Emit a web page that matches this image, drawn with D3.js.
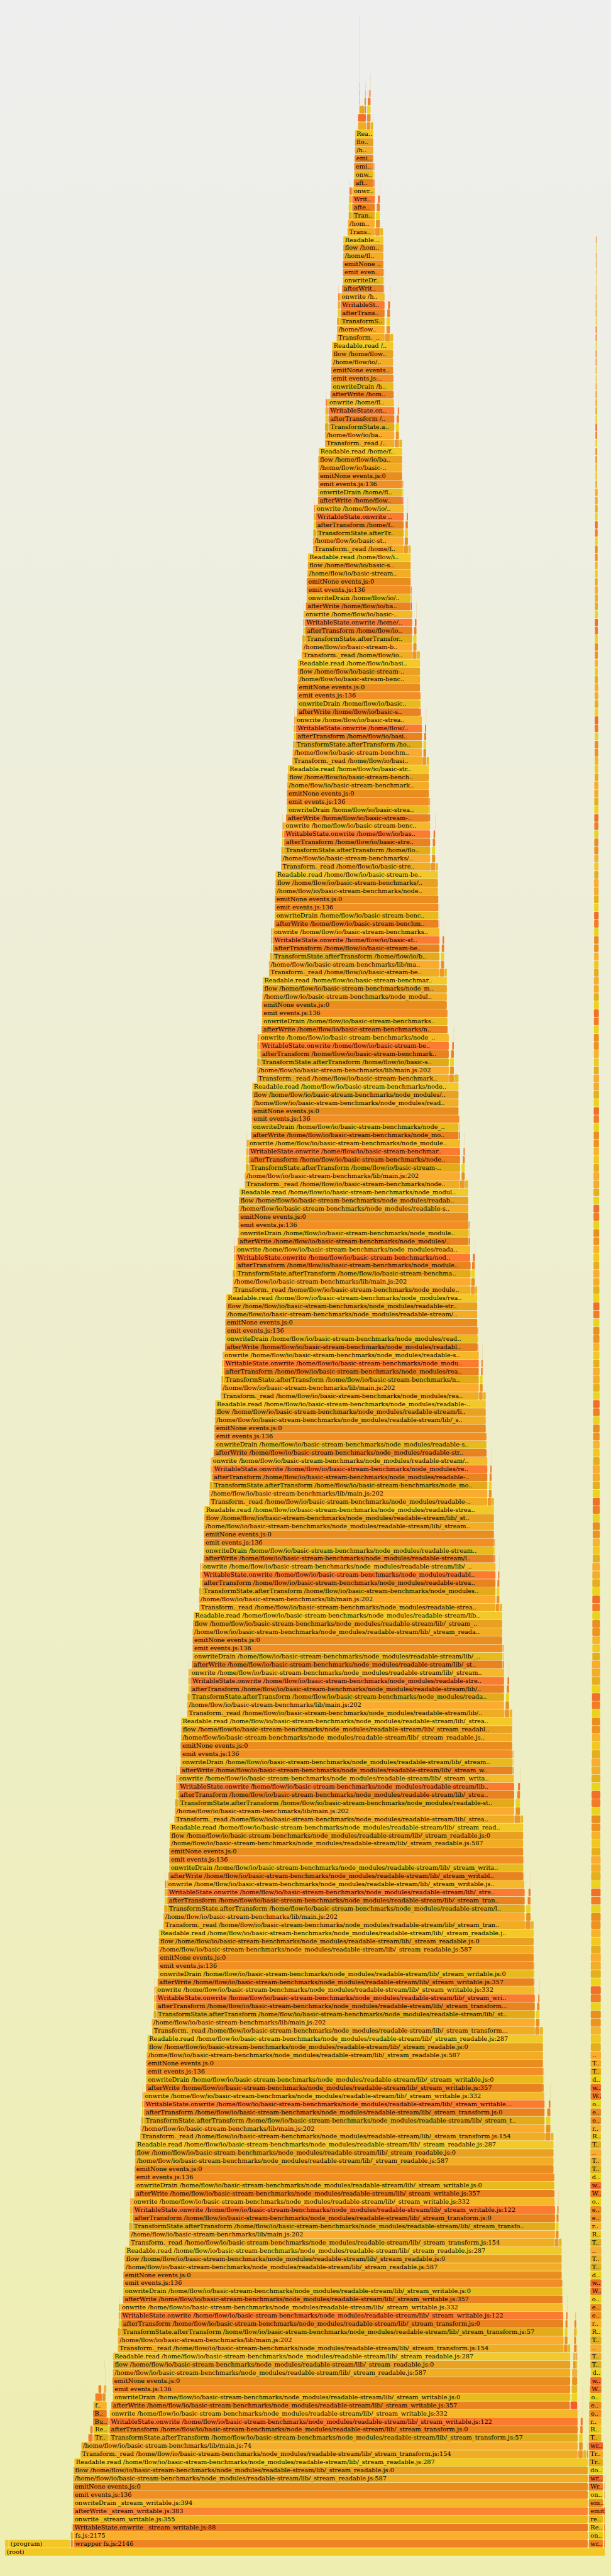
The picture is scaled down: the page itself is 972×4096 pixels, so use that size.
<!DOCTYPE html>
<html><head><meta charset="utf-8">
<script src="https://cdn.jsdelivr.net/npm/d3@7"></script>
<style>html,body{margin:0;padding:0;background:#eee}svg{display:block}text{font-family:"DejaVu Serif",serif;fill:#000}</style>
</head><body><svg id="chart"></svg>
<script>
const LIB = "/home/flow/io/basic-stream-benchmarks/node_modules/readable-stream/lib/";
const HOME = "/home/flow/io/basic-stream-benchmarks/lib/";

// frame names from the bottom of the stack upward
const baseNames = ["(root)","wrapper fs.js:2146","fs.js:2175","WritableState.onwrite _stream_writable.js:88",
  "onwrite _stream_writable.js:355","afterWrite _stream_writable.js:383","onwriteDrain _stream_writable.js:394",
  "emit events.js:136","emitNone events.js:0"," "+LIB+"_stream_readable.js:587","flow "+LIB+"_stream_readable.js:0",
  "Readable.read "+LIB+"_stream_readable.js:287","Transform._read "+LIB+"_stream_transform.js:154"," "+HOME+"main.js:74"];
const cycleNames = ["TransformState.afterTransform "+LIB+"_stream_transform.js:57","afterTransform "+LIB+"_stream_transform.js:0",
  "WritableState.onwrite "+LIB+"_stream_writable.js:122","onwrite "+LIB+"_stream_writable.js:332","afterWrite "+LIB+"_stream_writable.js:357",
  "onwriteDrain "+LIB+"_stream_writable.js:0","emit events.js:136","emitNone events.js:0"," "+LIB+"_stream_readable.js:587",
  "flow "+LIB+"_stream_readable.js:0","Readable.read "+LIB+"_stream_readable.js:287","Transform._read "+LIB+"_stream_transform.js:154"," "+HOME+"main.js:202"];
const cycleColors = ["#e3ab1a","#e9831f","#fb7c30","#f5b829","#e98320","#e8ba1e","#f18f25","#e88d1e","#f2ad25","#e8a120","#f3c929","#f0ad24","#fbac2e"];
const baseColors = ["#f3c726","#ee8423","#f9ae2c","#e97c22","#edb81f","#fc8533","#f4b828","#f18f25","#e88d1e","#f2ad25","#e8a120","#f3c929","#f0ad24","#f7ad2c"];

// main stack, sample offsets per row
const mainStart = [13,189,189,187,188,188,188,188,188,188,189,191,207,209,281,281,281,282,286,290,290,289,290,291,290,
 303,303,311,312,310,309,316,317,317,317,319,320,321,
 332,332,340,341,341,339,345,346,346,346,347,347,348,
 360,361,370,370,370,368,375,376,376,376,377,379,379,
 391,390,402,401,401,400,405,407,407,407,407,408,408,
 420,420,430,430,430,428,433,435,435,435,436,436,436,
 448,449,459,458,458,456,462,464,464,464,465,466,465,
 481,481,489,489,490,488,493,495,495,495,495,496,497,
 512,511,519,519,519,518,523,524,524,524,524,525,525,
 538,538,546,545,546,543,549,551,551,551,552,553,553,
 567,568,575,575,575,573,578,579,579,579,580,581,581,
 597,598,606,606,606,605,611,613,613,613,613,614,615,
 629,629,640,639,639,637,645,646,647,647,648,648,648,
 660,660,669,669,668,666,672,673,673,673,674,675,675,
 691,691,700,701,701,700,705,706,706,706,707,708,708,
 722,722,730,730,730,730,735,737,737,737,738,739,740,
 751,752,758,760,760,758,763,764,764,764,765,765,765,
 775,776,784,784,783,781,786,788,788,788,790,791,791,
 804,804,813,811,811,810,817,817,818,818,818,818,819,
 835,835,845,844,844,842,849,851,851,851,852,853,853,
 865,866,874,875,875,874,879,881,881,881,882,882,882,
 893,894,905,905,905,905,909,910,910,911,912,912,912];
const mainEnd = [1555,1511,1511,1511,1511,1511,1511,1511,1511,1511,1511,1511,1485,1485,1485,1485,1485,1485,1465,1466,1466,1466,1466,1466,1466,
 1449,1449,1448,1448,1448,1447,1445,1445,1445,1444,1444,1444,1444,
 1426,1427,1427,1427,1427,1426,1424,1424,1424,1423,1423,1423,1423,
 1401,1400,1400,1400,1400,1399,1396,1397,1396,1396,1396,1396,1396,
 1375,1375,1375,1375,1375,1374,1372,1372,1372,1372,1372,1372,1372,
 1350,1349,1349,1349,1349,1348,1345,1345,1345,1345,1345,1345,1345,
 1322,1322,1322,1322,1322,1321,1318,1318,1317,1317,1317,1317,1317,
 1297,1296,1296,1296,1296,1296,1292,1292,1292,1291,1291,1291,1291,
 1274,1274,1274,1274,1274,1274,1270,1270,1270,1270,1270,1270,1270,
 1253,1253,1253,1253,1253,1253,1250,1250,1250,1249,1249,1249,1249,
 1231,1231,1231,1231,1231,1231,1228,1228,1228,1227,1227,1227,1227,
 1210,1210,1210,1210,1209,1209,1205,1205,1205,1204,1204,1204,1204,
 1182,1183,1183,1183,1183,1183,1179,1179,1180,1179,1179,1179,1179,
 1154,1154,1154,1154,1154,1154,1150,1150,1150,1149,1149,1149,1149,
 1130,1130,1130,1130,1130,1130,1127,1127,1127,1127,1126,1126,1126,
 1107,1106,1106,1106,1106,1106,1103,1103,1103,1103,1103,1103,1103,
 1085,1085,1085,1085,1085,1085,1080,1080,1080,1080,1080,1080,1080,
 1060,1060,1060,1060,1060,1060,1056,1056,1056,1056,1056,1056,1056,
 1038,1038,1038,1038,1038,1038,1034,1034,1034,1034,1034,1034,1034,
 1014,1014,1014,1014,1014,1013,1011,1011,1011,1011,1011,1011,1011,
 989,989,989,989,989,989,986,986,986,986,986,986,986,
 964,964,964,964,964,964,960,960,960,960,960,960,960];

// side branches of each repeating cycle (first row of the cycle = 25, then every 13 rows)
const transformA = [[1449,1459],[1426,1436],[1401,1415],[1375,1387],[1350,1364],[1322,1337],[1297,1309],[1274,1284],[1253,1264],[1231,1241],[1210,1221],[1182,1195],[1154,1167],[1130,1142],[1107,1119],[1085,1096],[1060,1071],[1038,1049],[1014,1026],[989,1003],[964,977]];
const transformB = [1466,1444,1423,1396,1372,1345,1317,1291,1270,1249,1227,1204,1179,1149,1126,1103,1080,1056,1034,1011,985];
const mainSib = [1451,1428,1403,1377,1352,1325,1299,1276,1256,1233,1211,1186,1156,1133,1110,1088,1062,1040,1017,993,966];
const stateSib = [1451,1428,1403,1377,1352,1325,1300,1276,1256,1233,1211,1186,1156,1133,1110,1088,1062,1040,1017,993,966];
const afterSib = [1453,1430,1406,1380,1356,1329,1302,1278,1258,1236,1213,1189,1159,1135,1112,1090,1064,1042,1019,995,968];
const writableSib = [1455,1432,1410,1383,1358,1331,1304,1280,1260,1237,1215,1191,1162,1137,1114,1092,1066,1045,1022,997,971];
const tipEnd = [1447,1426,1398,1374,1347,1320,1295,1273,1252,1230,1208,1182,1152,1129,1106,1083,1059,1037,1013,988,963];
const leftState = [303,332,363,395,422,450,482,512,539,569,598,632,661,694,723,753,777,805,835,866,896];
const leftAfter = [305,334,365,396,423,452,484,514,541,571,601,632,661,696,725,755,779,806,836,868,896];
const leftWritable = [305,334,365,396,423,452,484,514,541,571,601,633,661,696,725,755,779,806,836,868,897];

const sideNames = ["garbage","(program)","transform","push","mainChild","stateChild","afterChild","writableChild","tipRed","tipYellow","tipPale",
 "stateLeft","afterLeft","writableLeft","sliver","pale","redTop","Buffer.write","Buffer.end","fs.close","Readable.unpipe","cb","callback","onend","Transform._read"];
const sideColors = ["#f3c726","#f3c726","#f0952a","#e8b820","#e8921f","#ead41d","#f0802a","#f2742a","#fb5a30","#e8d41d","#f0a040",
 "#e3ab1a","#e8cf20","#eeb329","#f08040","#eec080","#f56f28","#e88320","#e87e20","#f5b32a","#e5c71e","#f58020","#e8902a","#eeb040","#e2ab1c"];

// frames outside the repeating cycle: row, start, end, name
const extraFrames = [
 [1,13,23,"garbage"],[1,23,181,"(program)"],[1,182,188,"afterChild"],[2,182,188,"stateLeft"],[3,185,187,"afterChild"],
 [12,1486,1498,"transform"],[12,1498.5,1507,"push"],[12,1508,1511,"afterChild"],[13,1488,1498,"mainChild"],[13,1508.5,1510,"pale"],
 [14,227,239,"afterChild"],[14,240,280,"Transform._read"],[14,1488,1498,"stateChild"],
 [15,232,239,"afterChild"],[15,240,280,"Readable.unpipe"],[15,1491,1498,"afterChild"],
 [16,239,280,"Buffer.write"],[16,1492,1498,"writableChild"],[17,239,275,"Buffer.end"],[17,1497,1498.5,"pale"],
 [18,240,275,"fs.close"],[18,1466,1484,"tipRed"],[18,1497,1498.5,"pale"],[19,245,262.5,"cb"],[19,263,272,"callback"],[19,1469,1484,"stateChild"],[19,1497,1498.5,"pale"],
 [20,253,261,"cb"],[20,267,274,"onend"],[20,1469,1484,"push"],[20,1497,1498.5,"pale"],[21,271,272.5,"pale"],[21,1470,1484,"mainChild"],
 [22,271,272.5,"pale"],[22,1470,1484,"onend"],[23,269,270.5,"pale"],[23,1473,1480,"mainChild"],[23,1480,1484,"push"],
 [24,1473,1480,"onend"],[24,1481,1484,"afterChild"],
 [25,1475,1481,"afterChild"],[25,1481,1484,"onend"],[26,1475,1481,"mainChild"],[27,1475,1481,"onend"],[27,1481,1484,"stateChild"],
 [28,1476,1481,"afterChild"],[28,1482,1483.5,"pale"],[29,1478,1481,"pale"],
 [298,920,941,"Transform._read "+LIB+"_stream_transform.js:154"],[298,942,952,"transform"],[298,952,960,"push"],
 [299,920,941,"redTop"],[299,943,953,"mainChild"],[299,959,960.5,"pale"],
 [300,922.5,924.7,"push"],[300,924.7,937,"stateLeft"],[300,937,941,"afterChild"],[300,943,953,"stateChild"],
 [301,922.5,924.7,"writableLeft"],[301,935.6,937.4,"mainChild"],[301,938,941,"mainChild"],[301,945,953,"afterChild"],
 [302,922.5,924.7,"writableLeft"],[302,938,941,"pale"],[302,945,947,"pale"],[302,949,953,"writableChild"],
 [303,923.5,924.9,"sliver"],[303,939.5,941,"pale"],[303,951,952.5,"pale"],[304,923.7,925,"pale"],[304,951,952.3,"pale"],
 [305,923.7,925,"pale"],[306,923.7,925,"pale"],[307,923.7,925,"pale"],[308,923.7,925,"pale"],[309,923.7,925,"pale"],[310,923.7,925,"pale"],[311,923.7,925,"pale"]];
const rootTails = [[1,1552,"afterChild"],[2,1552,"push"],[3,1552,"afterChild"],[4,1552,"push"],[5,1551,"tipRed"],[6,1553,"stateChild"],[7,1553,"writableChild"],[8,1553,"afterChild"],[9,1554,"writableChild"]];

// right-hand column
const colBaseNames = ["wrapper","onread","Readable.push","readableAddChunk","emit","emitAgain","ondata","Writable.write","writeOrBuffer","doWrite","Transform._write","Transform._next","writeAll"];
const colBaseColors = ["#ee8423","#e8c820","#f2c125","#e9b71d","#f09020","#e89020","#ecd41c","#f27d25","#f06f29","#ead41d","#e5ae1b","#f2ae28","#f36429"];
const colCycleNames = ["Transform.write","Readable.add","readable.chunk","emit.first","emit.second","ondata.next","Writable.next","write.buffer","doWrite.next","Transform.run","Transform.tick"," (anonymous)"];
const colCycleColors = ["#e5ae1b","#f0c820","#f5b42a","#f09220","#e88f1f","#e8d41d","#f27d25","#f06f29","#ecd41c","#e5b01c","#f2ae28","#f8ac30"];
const colBands = [[1,13,1513,1550],[14,16,1513,1546],[17,18,1514,1546],[19,19,1515,1546],[20,20,1516,1546],[21,21,1517,1546],[22,22,1518,1546],[23,25,1517,1546],
 [26,37,1517,1546],[38,49,1517,1545.5],[50,61,1517.5,1545],[62,73,1518,1544.5],[74,85,1519,1544],[86,97,1520,1543.5],[98,109,1521,1543],[110,121,1522,1542.5],
 [122,133,1523,1542],[134,145,1524,1541.5],[146,157,1524.5,1541],[158,169,1525,1540.5],[170,181,1525.5,1540],[182,193,1526,1539.5],[194,205,1526.5,1539],
 [206,217,1527,1538.5],[218,229,1528,1538],[230,241,1528.5,1537],[242,253,1529,1536.5],[254,265,1530,1535],[266,277,1530.5,1534],[278,284,1531,1533.5]];

const S = 0.809;
const x = d3.scaleLinear().domain([0,1568]).range([0,1200*S]);
const y = d3.scaleLinear().domain([0,1]).range([5008*S,4992*S]);

const mainNameOf = r => r < baseNames.length ? baseNames[r] : cycleNames[(r-14)%13];
const frames = [];
const add = (row,start,end,name) => frames.push({row,start,end,name});
mainStart.forEach((s,r)=>add(r,s,mainEnd[r],mainNameOf(r)));
transformA.forEach((a,k)=>{
  const r = 25+13*k;
  add(r,a[0],a[1],"transform"); add(r,a[1],transformB[k],"push");
  add(r+1,mainSib[k],a[1],"mainChild"); add(r+2,stateSib[k],a[1],"stateChild");
  add(r+3,afterSib[k],a[1],"afterChild"); add(r+4,writableSib[k],a[1],"writableChild");
  add(r+2,leftState[k],mainStart[r+2],"stateLeft"); add(r+3,leftAfter[k],mainStart[r+3],"afterLeft");
  add(r+4,leftWritable[k],mainStart[r+4],"writableLeft");
  add(r+5,a[1]-1.3,a[1],"pale"); add(r+6,a[1]-1.3,a[1],"pale");
  add(r+5,leftWritable[k]+1,mainStart[r+5],"sliver"); add(r+6,leftWritable[k]+1,leftWritable[k]+2.3,"pale");
  add(r+6,mainEnd[r+6],tipEnd[k],"tipRed"); add(r+7,mainEnd[r+7],tipEnd[k],"tipYellow"); add(r+8,mainEnd[r+8],tipEnd[k],"tipPale");
});
extraFrames.forEach(f=>add(...f));
rootTails.forEach(t=>add(t[0],t[1],1555,t[2]));
colBands.forEach(b=>{ for(let r=b[0];r<=b[1];r++){ add(r,b[2],b[3], r<=13?colBaseNames[r-1]:colCycleNames[(r-14)%12]); } });

const allNames = [...baseNames,...cycleNames,...sideNames,...colBaseNames,...colCycleNames];
const allColors = [...baseColors,...cycleColors,...sideColors,...colBaseColors,...colCycleColors];
const colorMap = new Map(); allNames.forEach((n,i)=>{ if(!colorMap.has(n)) colorMap.set(n,allColors[i]); });
const color = d3.scaleOrdinal([...colorMap.keys()],[...colorMap.values()]);

const label = d => {
  const n = Math.floor((d.end-d.start)/1.3067/7);
  if(n<3) return "";
  return d.name.length<=n ? d.name : d.name.slice(0,n-2)+"..";
};

const svg = d3.select("#chart").attr("width",972).attr("height",4096).attr("viewBox","0 0 972 4096");
const grad = svg.append("defs").append("linearGradient").attr("id","bg").attr("x1",0).attr("y1",0).attr("x2",0).attr("y2",1);
grad.append("stop").attr("offset","0%").attr("stop-color","#eeeeee");
grad.append("stop").attr("offset","100%").attr("stop-color","#eeeeb0");
svg.append("rect").attr("width",972).attr("height",4096).attr("fill","url(#bg)");

const g = svg.append("g").selectAll("g").data(frames).join("g");
g.append("rect")
 .attr("x",d=>x(d.start)).attr("y",d=>y(d.row))
 .attr("width",d=>Math.max(x(d.end)-x(d.start)-0.55,0.45))
 .attr("height",15.2*S).attr("rx",2*S).attr("ry",2*S)
 .attr("fill",d=>color(d.name));
g.filter(d=>label(d)!=="").append("text")
 .attr("x",d=>x(d.start)+2.6).attr("y",d=>y(d.row)+11.3*S)
 .attr("font-size",12.08*S)
 .text(label);
</script></body></html>
